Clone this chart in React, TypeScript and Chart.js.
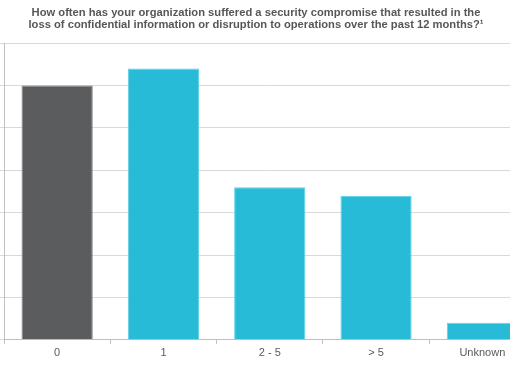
import React, { useEffect, useRef } from "react";
import { Chart, registerables } from "chart.js";

Chart.register(...registerables);

const titleLines = [
  "How often has your organization suffered a security compromise that resulted in the",
  "loss of confidential information or disruption to operations over the past 12 months?¹",
];
const categories = ["0", "1", "2 - 5", "> 5", "Unknown"];
const values = [30, 32, 18, 17, 2];
const barColors = ["#5b5c5e", "#27bbd8", "#27bbd8", "#27bbd8", "#27bbd8"];
const barEdgeColors = ["#7a7b7d", "#5fd0e6", "#5fd0e6", "#5fd0e6", "#5fd0e6"];

const FONT = "'Liberation Sans', Arial, sans-serif";

const titlePlugin = {
  id: "twoLineTitle",
  afterDraw(chart: any) {
    const ctx = chart.ctx;
    ctx.save();
    ctx.font = `bold 11.2px ${FONT}`;
    ctx.fillStyle = "#575757";
    ctx.textAlign = "center";
    ctx.textBaseline = "alphabetic";
    titleLines.forEach((line, i) => {
      ctx.fillText(line, 256, 15.5 + i * 12.8);
    });
    ctx.restore();
  },
};

export default function App() {
  const ref = useRef<HTMLCanvasElement>(null);
  useEffect(() => {
    if (!ref.current) return;
    const chart = new Chart(ref.current, {
      type: "bar",
      data: {
        labels: categories,
        datasets: [
          {
            data: values,
            backgroundColor: barColors,
            borderColor: barEdgeColors,
            borderWidth: 1,
            categoryPercentage: 1,
            barPercentage: 0.67,
          },
        ],
      },
      options: {
        responsive: false,
        animation: false,
        layout: { padding: { top: 43, left: 0, right: 4.5, bottom: 19 } },
        plugins: {
          legend: { display: false },
          tooltip: { enabled: false },
          title: { display: false },
        },
        scales: {
          x: {
            offset: true,
            grid: {
              drawOnChartArea: false,
              drawTicks: true,
              tickLength: 4,
              color: "#bfbfbf",
              offset: true,
            },
            border: { color: "#bfbfbf", width: 1 },
            ticks: {
              color: "#595959",
              font: { family: FONT, size: 11 },
              padding: 3,
            },
          },
          y: {
            min: 0,
            max: 35,
            ticks: { stepSize: 5, display: false },
            grid: { color: "#d9d9d9", tickLength: 4, drawTicks: true },
            border: { color: "#bfbfbf", width: 1 },
          },
        },
      },
      plugins: [titlePlugin],
    });
    return () => chart.destroy();
  }, []);
  return (
    <div
      style={{
        position: "fixed",
        left: 0,
        top: 0,
        width: 510,
        height: 382,
        overflow: "hidden",
        background: "#fff",
      }}
    >
      <canvas ref={ref} width={540} height={382} style={{ display: "block" }} />
    </div>
  );
}
